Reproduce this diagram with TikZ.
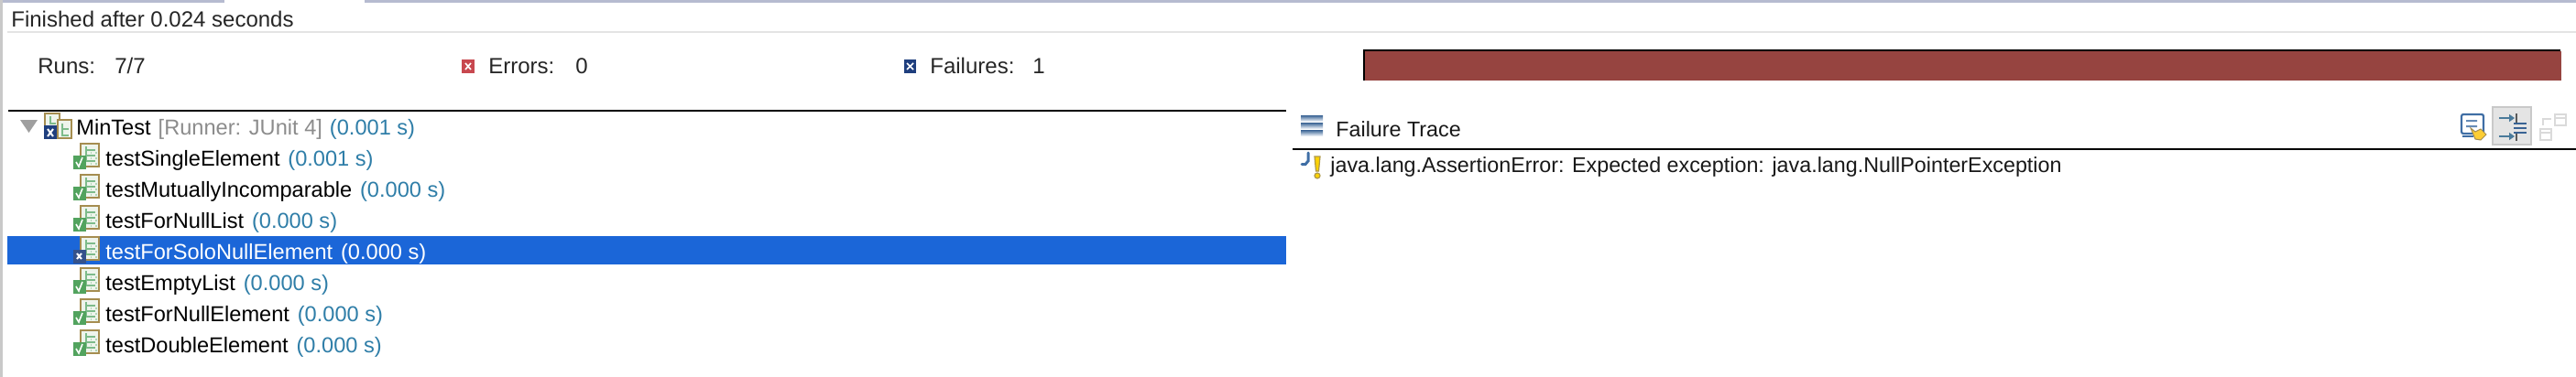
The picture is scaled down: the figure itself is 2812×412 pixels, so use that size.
\documentclass[tikz,border=0pt]{standalone}
\usepackage{fontspec}
\setmainfont{Liberation Sans}
\usetikzlibrary{arrows.meta, positioning}

\definecolor{tabbar}{HTML}{B6BBD0}
\definecolor{panegrey}{HTML}{C9C9C9}
\definecolor{ruleline}{HTML}{E4E4E4}
\definecolor{timeblue}{HTML}{2F7EA8}
\definecolor{runnergrey}{HTML}{8C8C8C}
\definecolor{selblue}{HTML}{1B66D8}
\definecolor{barred}{HTML}{964440}
\definecolor{docedge}{HTML}{A58D50}
\definecolor{docfill}{HTML}{EEF4EC}
\definecolor{treegreen}{HTML}{7DBB8A}
\definecolor{okgreen}{HTML}{52A35E}
\definecolor{failnavy}{HTML}{1F3F7E}
\definecolor{errred}{HTML}{C8484F}
\definecolor{toolblue}{HTML}{3F6EA5}
\definecolor{arrowblue}{HTML}{4A7A9A}

\tikzset{
    barlabel/.style={inner sep=0pt, anchor=base west, font=\fontsize{12}{14}\selectfont, text=black!85},
    testlabel/.style={inner sep=0pt, anchor=base west, font=\fontsize{11.8}{14}\selectfont},
    tracelabel/.style={inner sep=0pt, anchor=base west, font=\fontsize{11.65}{14}\selectfont, text=black!90},
    timelabel/.style={inner sep=0pt, font=\fontsize{11.8}{14}\selectfont, text=timeblue},
    pics/docicon/.style={
        code={
            \draw[docedge, line width=0.9pt, fill=docfill] (1,-16) rectangle (21,9);
            \draw[treegreen, line width=0.9pt] (7,-13) -- (7,4) (7,-9) -- (17,-9) (7,-3) -- (17,-3) (7,3) -- (17,3);
            \draw[treegreen!60, line width=0.7pt, dotted] (12,-6) -- (19,-6) (12,0) -- (19,0) (12,6) -- (19,6);
        }
    },
    pics/okbadge/.style={
        code={
            \draw[okgreen, fill=okgreen] (-7,-3) rectangle (6,11);
            \draw[white, line width=0.8pt] (-4,4) -- (-1,9) -- (3,-1);
        }
    },
    pics/xbadge/.style={
        code={
            \draw[#1, fill=#1] (-7,-2) rectangle (6,12);
            \draw[white, line width=1pt] (-3,2) -- (2,8) (2,2) -- (-3,8);
        }
    }
}

\begin{document}
\begin{tikzpicture}[x=0.5pt, y=-0.5pt]
    \useasboundingbox[fill=white] (0,0) rectangle (2812,412);

    % window edges
    \fill[tabbar] (0,0) rectangle (245,2.5);
    \fill[tabbar] (398,0) rectangle (2812,2.5);
    \fill[panegrey] (0,0) rectangle (3,412);
    \draw[ruleline, line width=1pt] (8,35) -- (2812,35);

    % status line
    \node[barlabel] (finished) at (12,29) {Finished after 0.024 seconds};
    \node[barlabel] (runs) at (41,80) {Runs:};
    \node[barlabel] (runsval) at (125,80) {7/7};
    \fill[errred] (504,65) rectangle (518,80);
    \draw[white, line width=0.8pt] (508,69) -- (514,76) (514,69) -- (508,76);
    \node[barlabel] (errors) at (533,80) {Errors:};
    \node[barlabel] (errorsval) at (628,80) {0};
    \fill[failnavy] (987,65) rectangle (1000,80);
    \draw[white, line width=0.8pt] (990,69) -- (997,76) (997,69) -- (990,76);
    \node[barlabel] (failures) at (1015,80) {Failures:};
    \node[barlabel] (failuresval) at (1127,80) {1};

    % progress bar
    \fill[black] (1488,54) rectangle (2795,88);
    \fill[barred] (1490,56) rectangle (2796,88);

    % pane borders
    \draw[black, line width=1pt] (9,121) -- (1404,121);
    \draw[black, line width=1pt] (1411,163) -- (2812,163);

    % test tree
    \fill[selblue] (8,258) rectangle (1404,289);
    \fill[gray!75] (22,131) -- (41,131) -- (31.5,145) -- cycle;
    \draw[docedge, line width=0.8pt, fill=docfill] (49,124) rectangle (65,142);
    \draw[docedge, line width=0.8pt, fill=docfill] (63,131) rectangle (78,151);
    \draw[treegreen, line width=0.8pt] (55,127) -- (55,135) -- (61,135) (68,135) -- (68,148) -- (75,148) (68,141) -- (75,141);
    \fill[failnavy] (48,137) rectangle (62,152);
    \draw[white, line width=1pt] (52,141) -- (58,149) (58,141) -- (52,149);
    \node[testlabel] (mintest) at (83,147) {MinTest};
    \node[testlabel, base right=3.6pt of mintest, text=runnergrey] (runner) {[Runner: JUnit 4]};
    \node[timelabel, base right=3.6pt of runner] (roottime) {(0.001 s)};

    \foreach \testname/\rowy/\testtime in {SingleElement/173/0.001, MutuallyIncomparable/207/0.000, ForNullList/241/0.000, EmptyList/309/0.000, ForNullElement/343/0.000, DoubleElement/377/0.000} {
        \pic at (87,\rowy) {docicon};
        \pic at (87,\rowy) {okbadge};
        \node[testlabel] (test\testname) at (115,\rowy+8.5) {test\testname};
        \node[timelabel, base right=4pt of test\testname] (time\testname) {(\testtime\ s)};
    }

    % selected row
    \pic at (87,275) {docicon};
    \pic at (87,275) {xbadge={failnavy!90!white}};
    \node[testlabel, text=white] (testForSoloNullElement) at (115,283.5) {testForSoloNullElement};
    \node[timelabel, text=white, base right=4pt of testForSoloNullElement] (timeForSoloNullElement) {(0.000 s)};

    % failure trace pane
    \foreach \bary in {126,134,142} {
        \shade[top color=toolblue!90!black, bottom color=toolblue!15] (1420,\bary) rectangle (1444,\bary+6);
    }
    \node[tracelabel] (tracetitle) at (1458,149) {Failure Trace};
    \draw[toolblue, line width=1.5pt, line cap=round] (1428,167) -- (1428,176) -- (1425,179.5) -- (1421,179.5);
    \draw[docedge!90!yellow, line width=0.6pt, fill=yellow!70!orange] (1435,171) -- (1441,171) -- (1439.5,187) -- (1436.5,187) -- cycle;
    \draw[docedge!90!yellow, line width=0.6pt, fill=yellow!70!orange] (1438,192) circle (3);
    \node[tracelabel] (tracemsg) at (1452,188) {java.lang.AssertionError: Expected exception: java.lang.NullPointerException};

    % toolbar
    \draw[toolblue, line width=1.1pt, fill=white, rounded corners=1pt] (2687,125) rectangle (2711,146);
    \fill[toolblue!80] (2692,131) rectangle (2704,133) (2692,137) rectangle (2704,139);
    \draw[toolblue, line width=0.8pt] (2688,149) -- (2700,149);
    \draw[docedge, line width=0.5pt, fill=yellow!55!orange!80] (2697,140) -- (2702,144) -- (2708,141) -- (2714,147) -- (2708,153) -- (2702,152) -- cycle;

    \draw[panegrey, line width=1pt, fill=ruleline] (2721,117) rectangle (2763,158);
    \draw[arrowblue, line width=0.7pt, -{Triangle[length=3pt,width=4pt]}] (2728,129) -- (2745,129);
    \draw[arrowblue, line width=0.7pt, -{Triangle[length=3pt,width=4pt]}] (2728,149) -- (2745,149);
    \draw[black!65, line width=0.6pt] (2747,124) -- (2747,136) (2747,144) -- (2747,154);
    \draw[toolblue!90!black, line width=0.9pt] (2744,135) -- (2758,135) (2744,140) -- (2758,140) (2744,145) -- (2758,145);

    \draw[ruleline!90!gray, line width=1pt] (2789,125) rectangle (2801,137) (2773,141) rectangle (2785,153);
    \draw[ruleline!90!gray, line width=0.9pt] (2789,129) -- (2801,129) (2773,145) -- (2785,145);
    \draw[ruleline!90!gray, line width=0.9pt] (2785,130) -- (2776,130) -- (2776,137);
\end{tikzpicture}
\end{document}
